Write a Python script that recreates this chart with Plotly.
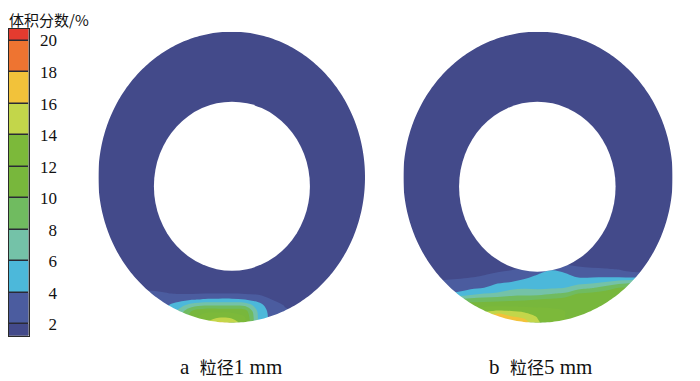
import numpy as np
import plotly.graph_objects as go

# ---------------- data ----------------
# colour of each 2 %-wide band: <2, 2-4, 4-6, ..., 18-20, >20
BAND_COLORS = ["#434a8a", "#4b5c9f", "#4cb8da", "#74c2a8", "#70bb60", "#78b73c",
               "#7cb93a", "#c3d64a", "#f2c23a", "#ee7431", "#e43b2f"]
BAND_MIDS = [1, 3, 5, 7, 9, 11, 13, 15, 17, 19, 21]
TICK_VALS = [2, 4, 6, 8, 10, 12, 14, 16, 18, 20]
TICK_TEXT = ["2", "4", "6", "8", "10", "12", "14", "16", "18", "20"]
CBAR_TITLE = "体积分数/%"
PANEL_LETTERS = ["a", "b"]
PANEL_WORD = "粒径"
PANEL_SIZES = ["1", "5"]
PANEL_UNIT = "mm"

# sample grid across the pipe section (normalised to the outer wall)
GRID_U = [-1.0, -0.9, -0.8, -0.7, -0.6, -0.5, -0.4, -0.3, -0.2, -0.1, 0.0,
          0.1, 0.2, 0.3, 0.4, 0.5, 0.6, 0.7, 0.8, 0.9, 1.0]
GRID_V = [-1.0, -0.96, -0.92, -0.88, -0.84, -0.80, -0.76, -0.72, -0.68,
          -0.64, -0.60, -0.50, 1.0]

ONES = [1] * 21
# volume fraction (%) (1 mm particles), rows follow GRID_V
FRAC_A = [
    [1, 1, 1.7, 2.3, 2.6, 3.8, 7, 11, 14, 16.5, 16, 12.5, 5.8, 3.3, 2.3, 1.7, 1, 1, 1, 1, 1],
    [1, 1, 1.7, 2.3, 2.6, 3.8, 7, 11, 13, 13.5, 13.2, 12, 5.8, 3.3, 2.3, 1.7, 1, 1, 1, 1, 1],
    [1, 1, 1.7, 2.3, 2.6, 3.8, 6.5, 10, 11.5, 11.5, 11.5, 11, 5.5, 3.2, 2.2, 1.7, 1, 1, 1, 1, 1],
    [1, 1, 1.7, 2.3, 2.6, 3.6, 5, 7, 7.8, 7.8, 7.8, 7.5, 4.8, 2.8, 1.9, 1.5, 1, 1, 1, 1, 1],
    [1, 1, 1.6, 2.3, 2.4, 2.7, 3.2, 3.8, 4.2, 4.3, 4.3, 4.0, 3.2, 2.0, 1.5, 1.2, 1, 1, 1, 1, 1],
    [1, 1, 1.4, 2.2, 2.2, 2.1, 1.9, 1.9, 2.0, 2.0, 2.0, 1.9, 1.7, 1.3, 1.1, 1, 1, 1, 1, 1, 1],
    [1, 1, 1.2, 1.8, 1.8, 1.6, 1.3, 1.2, 1.2, 1.2, 1.2, 1.1, 1.1, 1, 1, 1, 1, 1, 1, 1, 1],
    [1, 1, 1, 1.3, 1.2, 1.1, 1, 1, 1, 1, 1, 1, 1, 1, 1, 1, 1, 1, 1, 1, 1],
    ONES, ONES, ONES, ONES, ONES,
]
# volume fraction (%) (5 mm particles), rows follow GRID_V
FRAC_B = [
    [11.5, 11.5, 11.5, 11.5, 11.5, 12, 15.5, 19, 17, 17, 14.3, 12.5, 12, 12, 12, 12, 12, 12, 12, 12, 12],
    [11.5, 11.5, 11.5, 11.5, 11.5, 12, 15, 18.5, 16.3, 15.5, 13.8, 12.5, 12, 12, 12, 12, 12, 12, 12, 12, 12],
    [11.5, 11.5, 11.5, 11.5, 11.5, 11.8, 13.6, 14.3, 14, 13.5, 12.6, 12.2, 12, 12, 12, 12, 12, 12, 12, 12, 12],
    [10.8, 10.8, 10.8, 10.8, 11, 11.2, 11.3, 11.5, 11.5, 11.5, 11.6, 11.8, 12, 12, 12, 12, 12, 12, 12, 12, 12],
    [8, 8, 8, 8, 8.3, 8.8, 9, 9.2, 9.5, 9.7, 10, 10.3, 10.8, 11.5, 11.6, 11.7, 11.8, 12, 12, 12, 12],
    [4, 4, 4, 4, 4.3, 5.2, 6, 6.3, 7, 7.1, 7.2, 7.8, 8.3, 10, 10.5, 11, 11.3, 11.5, 11.5, 11.5, 11.5],
    [3.1, 3.1, 3.1, 3.1, 3.2, 3.6, 4, 4.8, 5.5, 5.8, 5.6, 5.7, 6, 7.2, 7.8, 8.9, 10, 10.3, 10.3, 10.3, 10.3],
    [2.2, 2.2, 2.2, 2.2, 2.3, 2.7, 3.1, 3.7, 4, 4.5, 4.9, 5.1, 5.3, 5, 5.4, 6, 6.9, 7.5, 7.5, 7.5, 7.5],
    [1.6, 1.6, 1.6, 1.6, 1.7, 1.8, 2.1, 2.6, 3, 3.5, 4.3, 4.6, 4.5, 3.7, 3.6, 3.5, 3.4, 3, 3, 3, 3],
    [1.3, 1.3, 1.3, 1.3, 1.3, 1.4, 1.5, 1.7, 2, 2.5, 3.3, 4, 3.6, 2.8, 2.4, 2.3, 2.1, 1.6, 1.6, 1.6, 1.6],
    [1.1, 1.1, 1.1, 1.1, 1.1, 1.2, 1.2, 1.3, 1.4, 1.6, 2, 2.2, 2, 1.6, 1.5, 1.4, 1.3, 1.2, 1.2, 1.2, 1.2],
    ONES, ONES,
]

# ---------------- geometry / style ----------------
# the page body adds an 8 px margin, so the figure is laid out in page pixels minus 8
OFF = 8
W, H = 700 - OFF, 381 - OFF
def px_x(p):
    return (p - OFF) / W
def px_y(p):
    return 1 - (p - OFF) / H

# outer-wall bounding boxes (page px) and inner-pipe ellipse (normalised units)
PANELS = [
    dict(x0=98.3, x1=365.0, inner=(0.002, -0.062, 0.585, 0.581)),
    dict(x0=403.3, x1=672.7, inner=(-0.005, -0.065, 0.581, 0.584)),
]
RING_TOP, RING_BOT = 31.7, 322.7
PAD = 1.03  # axis range a little beyond the wall so no edge seams show

colorscale = [[i / (len(BAND_COLORS) - 1), c] for i, c in enumerate(BAND_COLORS)]
SERIF = "Liberation Serif, Times New Roman, Noto Sans CJK SC, serif"
CJK = "Noto Sans CJK SC, " + SERIF

fig = go.Figure()
layout_axes = {}
shapes = []

theta = np.linspace(0, 2 * np.pi, 361)
ell = " ".join(f"L{np.cos(t):.4f},{np.sin(t):.4f}" for t in theta[1:])
outer_mask = "M-3,-3 L3,-3 L3,3 L-3,3 Z M1,0 " + ell + " Z"

for i, (panel, frac) in enumerate(zip(PANELS, [FRAC_A, FRAC_B])):
    n = "" if i == 0 else str(i + 1)
    fig.add_trace(go.Contour(
        x=GRID_U, y=GRID_V, z=frac, colorscale=colorscale,
        contours=dict(start=2, end=20, size=2, coloring="fill", showlines=False),
        line=dict(width=0), showscale=False, hoverinfo="skip",
        xaxis="x" + n, yaxis="y" + n))
    cxp = (panel["x0"] + panel["x1"]) / 2
    rxp = (panel["x1"] - panel["x0"]) / 2 * PAD
    cyp = (RING_TOP + RING_BOT) / 2
    ryp = (RING_BOT - RING_TOP) / 2 * PAD
    layout_axes["xaxis" + n] = dict(domain=[px_x(cxp - rxp), px_x(cxp + rxp)],
                                    range=[-PAD, PAD], visible=False, anchor="y" + n)
    layout_axes["yaxis" + n] = dict(domain=[px_y(cyp + ryp), px_y(cyp - ryp)],
                                    range=[-PAD, PAD], visible=False, anchor="x" + n)
    cx, cy, rx, ry = panel["inner"]
    shapes.append(dict(type="path", xref="x" + n, yref="y" + n, path=outer_mask,
                       fillrule="evenodd", fillcolor="white", line=dict(width=0),
                       layer="above"))
    shapes.append(dict(type="circle", xref="x" + n, yref="y" + n,
                       x0=cx - rx, x1=cx + rx, y0=cy - ry, y1=cy + ry,
                       fillcolor="white", line=dict(width=0), layer="above"))

# colour bar built as a heat-map strip
CB_TOP, CB_BOT = 29.0, 335.5
CB_RANGE = [1.3, 20.73]
fig.add_trace(go.Heatmap(x=[0], y=BAND_MIDS, z=[[m] for m in BAND_MIDS],
                         colorscale=colorscale, zmin=BAND_MIDS[0], zmax=BAND_MIDS[-1],
                         showscale=False, ygap=1.5, hoverinfo="skip",
                         xaxis="x3", yaxis="y3"))
fig.add_trace(go.Scatter(x=[0], y=[10], mode="markers", marker=dict(opacity=0),
                         hoverinfo="skip", showlegend=False, xaxis="x3", yaxis="y4"))
layout_axes["xaxis3"] = dict(domain=[px_x(8.6), px_x(28.5)], range=[-0.5, 0.5], anchor="y3",
                             showline=True, mirror=True, linecolor="#2a2a2a", linewidth=1.2,
                             showticklabels=False, ticks="", showgrid=False, zeroline=False)
layout_axes["yaxis3"] = dict(domain=[px_y(CB_BOT), px_y(CB_TOP)], range=CB_RANGE, anchor="x3",
                             showline=True, mirror=True, linecolor="#2a2a2a", linewidth=1.2,
                             showticklabels=False, ticks="", showgrid=False, zeroline=False)
layout_axes["yaxis4"] = dict(overlaying="y3", anchor="free", position=px_x(57), side="left",
                             range=CB_RANGE, tickvals=TICK_VALS, ticktext=TICK_TEXT,
                             ticks="", showline=False, showgrid=False, zeroline=False,
                             tickfont=dict(family=SERIF, size=17, color="#111"))
shapes.append(dict(type="rect", xref="x3 domain", yref="y3 domain", x0=0, x1=1, y0=0, y1=1,
                   fillcolor="#2a2a35", line=dict(width=0), layer="below"))

annotations = [
    dict(text=CBAR_TITLE, x=0, y=1, xref="paper", yref="paper", xanchor="left",
         yanchor="top", showarrow=False, borderpad=0,
         font=dict(family=CJK, size=15, color="#111")),
]
for letter, size, xc in zip(PANEL_LETTERS, PANEL_SIZES, [231, 540]):
    cap = (f"{letter}\u2002<span style='font-family:{CJK};font-size:17px'>{PANEL_WORD}</span>"
           f"{size}\u2005{PANEL_UNIT}")
    annotations.append(dict(text=cap, x=px_x(xc), y=px_y(366), xref="paper", yref="paper",
                            xanchor="center", yanchor="middle", showarrow=False,
                            font=dict(family=SERIF, size=21, color="#111")))

fig.update_layout(width=W, height=H, margin=dict(l=0, r=0, t=0, b=0),
                  paper_bgcolor="white", plot_bgcolor="white", showlegend=False,
                  shapes=shapes, annotations=annotations, hovermode=False, **layout_axes)

fig.write_html("out.html")
